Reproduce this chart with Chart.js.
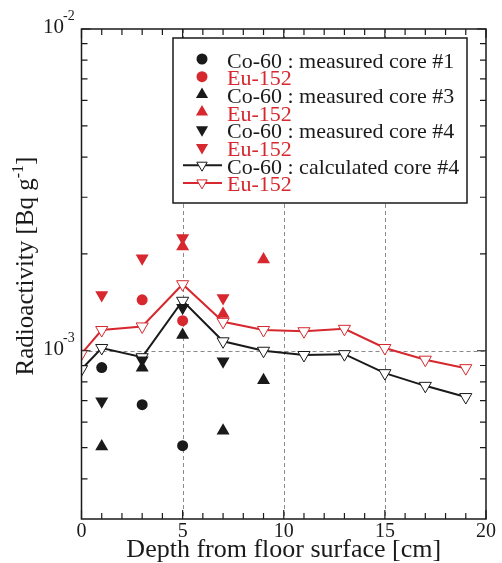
<!DOCTYPE html>
<html>
<head>
<meta charset="utf-8">
<script src="https://cdn.jsdelivr.net/npm/chart.js@4.4.1/dist/chart.umd.min.js"></script>
<style>
  html, body { margin: 0; padding: 0; background: #fff; }
  canvas { display: block; }
</style>
</head>
<body>
<canvas id="graph" width="502" height="563"></canvas>
<script>
// couleurs
const NOIR = '#1a1a1a';
const ROUGE = '#d6282e';
const SERIF = "'Liberation Serif', 'DejaVu Serif', serif";

// profondeurs [cm]
const depthMeasured = [1, 3, 5, 7, 9];
const depthCalc = [0, 1, 3, 5, 7, 9, 11, 13, 15, 17, 19];

// carotte #1 (mesure)
const core1Co = [8.87e-4, 6.8e-4, 5.07e-4, null, null];
const core1Eu = [null, 1.44e-3, 1.24e-3, null, null];
// carotte #3 (mesure)
const core3Co = [5.04e-4, 8.85e-4, 1.12e-3, 5.64e-4, 8.1e-4];
const core3Eu = [null, null, 2.11e-3, 1.30e-3, 1.92e-3];
// carotte #4 (mesure)
const core4Co = [6.97e-4, 9.35e-4, 1.36e-3, 9.27e-4, null];
const core4Eu = [1.49e-3, 1.94e-3, 2.24e-3, 1.46e-3, null];
// carotte #4 (calcul)
const calcCo = [8.76e-4, 1.02e-3, 9.55e-4, 1.43e-3, 1.07e-3, 1.0e-3, 9.7e-4, 9.76e-4, 8.52e-4, 7.78e-4, 7.18e-4];
const calcEu = [9.79e-4, 1.16e-3, 1.19e-3, 1.61e-3, 1.23e-3, 1.16e-3, 1.15e-3, 1.17e-3, 1.02e-3, 9.38e-4, 8.83e-4];

// graduations
const xMajor = [0, 5, 10, 15, 20];
const xMinor = [1, 2, 3, 4, 6, 7, 8, 9, 11, 12, 13, 14, 16, 17, 18, 19];
const xGrid = [5, 10, 15];
const yMajor = [1e-3, 1e-2];
const yMinor = [4e-4, 5e-4, 6e-4, 7e-4, 8e-4, 9e-4, 2e-3, 3e-3, 4e-3, 5e-3, 6e-3, 7e-3, 8e-3, 9e-3];
const yGrid = [1e-3];
const yTickExp = ['-3', '-2'];

// légende
const legendLabels = [
  'Co-60 : measured core #1', 'Eu-152',
  'Co-60 : measured core #3', 'Eu-152',
  'Co-60 : measured core #4', 'Eu-152',
  'Co-60 : calculated core #4', 'Eu-152'
];

/**
 * assemble les couples {x, y} en ignorant les trous
 */
function points(depths, values) {
  let out = [];
  depths.forEach((d, i) => { if (values[i] != null) out.push({ x: d, y: values[i] }); });
  return out;
}

function mesure(values, color, style, rotation, radius) {
  return {
    data: points(depthMeasured, values),
    showLine: false,
    pointStyle: style,
    pointRotation: rotation,
    pointRadius: radius,
    pointBackgroundColor: color,
    pointBorderColor: color,
    pointBorderWidth: 0
  };
}

function calcul(values, color) {
  return {
    data: points(depthCalc, values),
    showLine: true,
    borderColor: color,
    borderWidth: 2,
    pointStyle: 'triangle',
    pointRotation: 180,
    pointRadius: 7,
    pointBackgroundColor: '#fff',
    pointBorderColor: color,
    pointBorderWidth: 1
  };
}

// symboles de la légende : [style, rotation, couleur, ligne ?]
const legendSymbols = [
  ['circle', 0, NOIR, false], ['circle', 0, ROUGE, false],
  ['triangle', 0, NOIR, false], ['triangle', 0, ROUGE, false],
  ['triangle', 180, NOIR, false], ['triangle', 180, ROUGE, false],
  ['triangle', 180, NOIR, true], ['triangle', 180, ROUGE, true]
];

const cadre = {
  id: 'cadre',
  beforeDatasetsDraw(chart) {
    const { ctx, chartArea: a, scales: { x, y } } = chart;
    ctx.save();
    ctx.strokeStyle = '#8a8a8a';
    ctx.lineWidth = 1;
    ctx.setLineDash([4, 3]);
    xGrid.forEach((v) => {
      let px = Math.round(x.getPixelForValue(v)) + 0.5;
      ctx.beginPath(); ctx.moveTo(px, a.top); ctx.lineTo(px, a.bottom); ctx.stroke();
    });
    yGrid.forEach((v) => {
      let py = Math.round(y.getPixelForValue(v)) + 0.5;
      ctx.beginPath(); ctx.moveTo(a.left, py); ctx.lineTo(a.right, py); ctx.stroke();
    });
    ctx.restore();
  },
  afterDraw(chart) {
    const { ctx, chartArea: a, scales: { x, y } } = chart;
    ctx.save();
    ctx.strokeStyle = NOIR;
    ctx.lineWidth = 1.2;

    // graduations vers l'intérieur, sur les quatre côtés
    const tickX = (v, len) => {
      let px = x.getPixelForValue(v);
      ctx.beginPath();
      ctx.moveTo(px, a.bottom); ctx.lineTo(px, a.bottom - len);
      ctx.moveTo(px, a.top); ctx.lineTo(px, a.top + len);
      ctx.stroke();
    };
    const tickY = (v, len) => {
      let py = y.getPixelForValue(v);
      ctx.beginPath();
      ctx.moveTo(a.left, py); ctx.lineTo(a.left + len, py);
      ctx.moveTo(a.right, py); ctx.lineTo(a.right - len, py);
      ctx.stroke();
    };
    xMinor.forEach((v) => tickX(v, 6));
    xMajor.forEach((v) => tickX(v, 9));
    yMinor.forEach((v) => tickY(v, 6));
    yMajor.forEach((v) => tickY(v, 9));

    ctx.lineWidth = 1.5;
    ctx.strokeRect(a.left, a.top, a.right - a.left, a.bottom - a.top);

    // étiquettes des axes
    ctx.fillStyle = NOIR;
    ctx.font = '20px ' + SERIF;
    ctx.textAlign = 'center';
    ctx.textBaseline = 'alphabetic';
    xMajor.forEach((v) => ctx.fillText(String(v), x.getPixelForValue(v), a.bottom + 18));

    yMajor.forEach((v, i) => {
      let py = y.getPixelForValue(v);
      ctx.textAlign = 'left';
      ctx.font = '21px ' + SERIF;
      ctx.fillText('10', 43, py + 4);
      ctx.font = '14px ' + SERIF;
      ctx.fillText(yTickExp[i], 63, py - 9);
    });

    ctx.font = '26px ' + SERIF;
    ctx.textAlign = 'center';
    ctx.fillText('Depth from floor surface [cm]', (a.left + a.right) / 2, 557);

    // titre vertical avec exposant
    ctx.translate(33, 266);
    ctx.rotate(-Math.PI / 2);
    ctx.font = '25px ' + SERIF;
    let t1 = 'Radioactivity [Bq g';
    let w1 = ctx.measureText(t1).width;
    ctx.font = '16px ' + SERIF;
    let w2 = ctx.measureText('-1').width;
    ctx.font = '25px ' + SERIF;
    let w3 = ctx.measureText(']').width;
    let x0 = -(w1 + w2 + w3) / 2;
    ctx.textAlign = 'left';
    ctx.fillText(t1, x0, 0);
    ctx.font = '16px ' + SERIF;
    ctx.fillText('-1', x0 + w1, -10);
    ctx.font = '25px ' + SERIF;
    ctx.fillText(']', x0 + w1 + w2, 0);
    ctx.restore();

    // légende
    ctx.save();
    ctx.fillStyle = '#fff';
    ctx.fillRect(173, 38, 294, 165);
    ctx.strokeStyle = NOIR;
    ctx.lineWidth = 1.5;
    ctx.strokeRect(173, 38, 294, 165);
    ctx.font = '22px ' + SERIF;
    ctx.textAlign = 'left';
    legendLabels.forEach((txt, i) => {
      let base = 67.5 + i * 17.7;
      let my = base - 8.5;
      let [style, rot, color, line] = legendSymbols[i];
      if (line) {
        ctx.strokeStyle = color;
        ctx.lineWidth = 2;
        ctx.beginPath(); ctx.moveTo(183, my); ctx.lineTo(222, my); ctx.stroke();
        ctx.fillStyle = '#fff';
        ctx.strokeStyle = color;
        ctx.lineWidth = 1;
        Chart.helpers.drawPoint(ctx, { pointStyle: style, rotation: rot, radius: 6, borderWidth: 1 }, 202, my);
      } else {
        ctx.fillStyle = color;
        ctx.strokeStyle = color;
        Chart.helpers.drawPoint(ctx, { pointStyle: style, rotation: rot, radius: style == 'circle' ? 5.5 : 7, borderWidth: 0 }, 202, my);
      }
      ctx.fillStyle = i % 2 == 0 ? NOIR : ROUGE;
      ctx.fillText(txt, 227, base);
    });
    ctx.restore();
  }
};

function graphique() {
  let data = {
    datasets: [
      mesure(core1Co, NOIR, 'circle', 0, 5.5),
      mesure(core1Eu, ROUGE, 'circle', 0, 5.5),
      mesure(core4Co, NOIR, 'triangle', 180, 7.5),
      mesure(core4Eu, ROUGE, 'triangle', 180, 7.5),
      mesure(core3Co, NOIR, 'triangle', 0, 7.5),
      mesure(core3Eu, ROUGE, 'triangle', 0, 7.5),
      calcul(calcCo, NOIR),
      calcul(calcEu, ROUGE)
    ]
  };
  let options = {
    responsive: false,
    animation: false,
    layout: { padding: { top: 29, right: 16, left: 0, bottom: 0 } },
    scales: {
      x: {
        type: 'linear', min: 0, max: 20,
        grid: { display: false }, border: { display: false },
        ticks: { display: false },
        afterFit: (s) => { s.height = 44; }
      },
      y: {
        type: 'logarithmic', min: 3e-4, max: 1e-2,
        grid: { display: false }, border: { display: false },
        ticks: { display: false },
        afterFit: (s) => { s.width = 81.5; }
      }
    },
    plugins: {
      legend: { display: false },
      tooltip: { enabled: false },
      title: { display: false }
    }
  };
  new Chart(document.getElementById('graph').getContext('2d'), {
    type: 'scatter', data: data, options: options, plugins: [cadre]
  });
}

graphique();
</script>
</body>
</html>
